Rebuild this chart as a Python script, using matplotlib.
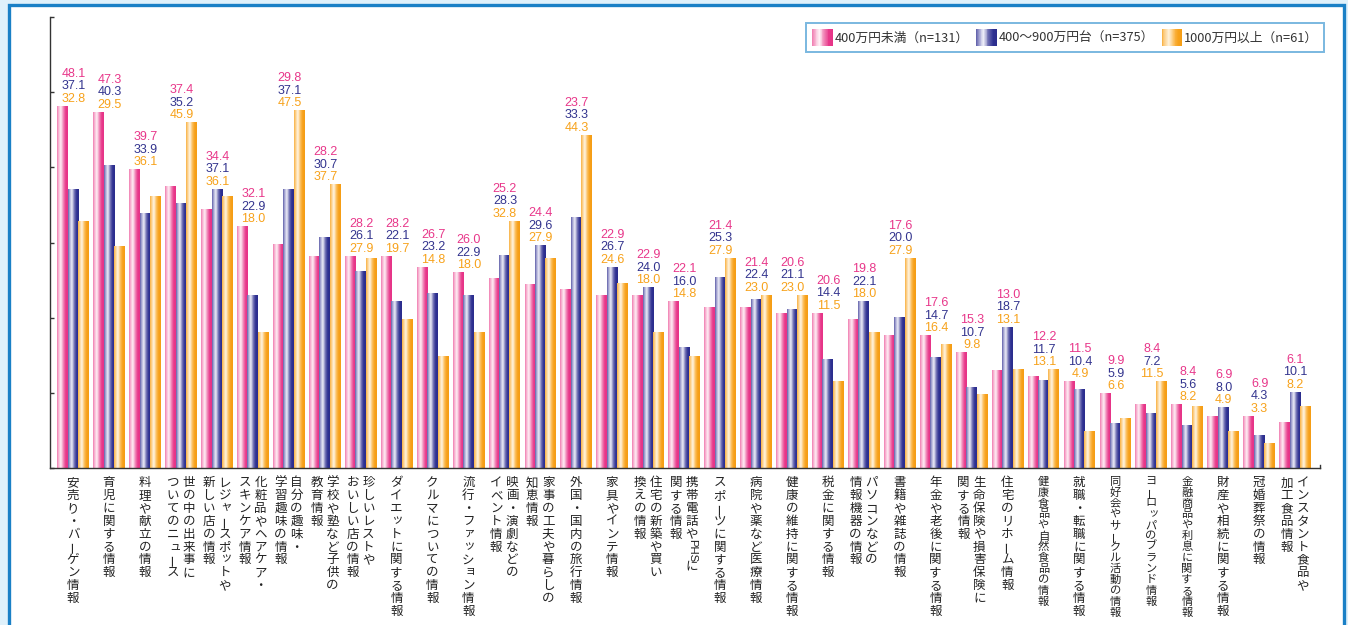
import numpy as np
import matplotlib
matplotlib.use("Agg")
import matplotlib.pyplot as plt
from matplotlib.colors import LinearSegmentedColormap
from matplotlib.patches import Rectangle
from matplotlib.legend_handler import HandlerBase

plt.rcParams['font.family'] = ['Noto Sans CJK JP', 'DejaVu Sans']

# ---------------- data ----------------
categories = [
    "安売り・バーゲン情報",
    "育児に関する情報",
    "料理や献立の情報",
    "世の中の出来事に\nついてのニュース",
    "レジャースポットや\n新しい店の情報",
    "化粧品やヘアケア・\nスキンケア情報",
    "自分の趣味・\n学習趣味の情報",
    "学校や塾など子供の\n教育情報",
    "珍しいレストや\nおいしい店の情報",
    "ダイエットに関する情報",
    "クルマについての情報",
    "流行・ファッション情報",
    "映画・演劇などの\nイベント情報",
    "家事の工夫や暮らしの\n知恵情報",
    "外国・国内の旅行情報",
    "家具やインテ情報",
    "住宅の新築や買い\n換えの情報",
    "携帯電話やPHSに\n関する情報",
    "スポーツに関する情報",
    "病院や薬など医療情報",
    "健康の維持に関する情報",
    "税金に関する情報",
    "パソコンなどの\n情報機器の情報",
    "書籍や雑誌の情報",
    "年金や老後に関する情報",
    "生命保険や損害保険に\n関する情報",
    "住宅のリホーム情報",
    "健康食品や自然食品の情報",
    "就職・転職に関する情報",
    "同好会やサークル活動の情報",
    "ヨーロッパのブランド情報",
    "金融商品や利息に関する情報",
    "財産や相続に関する情報",
    "冠婚葬祭の情報",
    "インスタント食品や\n加工食品情報",
]
low = [48.1, 47.3, 39.7, 37.4, 34.4, 32.1, 29.8, 28.2, 28.2, 28.2, 26.7, 26.0,
       25.2, 24.4, 23.7, 22.9, 22.9, 22.1, 21.4, 21.4, 20.6, 20.6, 19.8, 17.6,
       17.6, 15.3, 13.0, 12.2, 11.5, 9.9, 8.4, 8.4, 6.9, 6.9, 6.1]
mid = [37.1, 40.3, 33.9, 35.2, 37.1, 22.9, 37.1, 30.7, 26.1, 22.1, 23.2, 22.9,
       28.3, 29.6, 33.3, 26.7, 24.0, 16.0, 25.3, 22.4, 21.1, 14.4, 22.1, 20.0,
       14.7, 10.7, 18.7, 11.7, 10.4, 5.9, 7.2, 5.6, 8.0, 4.3, 10.1]
high = [32.8, 29.5, 36.1, 45.9, 36.1, 18.0, 47.5, 37.7, 27.9, 19.7, 14.8, 18.0,
        32.8, 27.9, 44.3, 24.6, 18.0, 14.8, 27.9, 23.0, 23.0, 11.5, 18.0, 27.9,
        16.4, 9.8, 13.1, 13.1, 4.9, 6.6, 11.5, 8.2, 4.9, 3.3, 8.2]
series_names = ["400万円未満（n=131）", "400〜900万円台（n=375）", "1000万円以上（n=61）"]

# ---------------- style ----------------
text_colors = ['#e8378a', '#33348e', '#f7a21b']
cmaps = [
    LinearSegmentedColormap.from_list('pk', [(0, '#f07ab0'), (0.15, '#f7b5d2'), (0.35, '#fff0f6'),
                                             (0.6, '#f07fb3'), (0.8, '#e8388a'), (1, '#e63487')]),
    LinearSegmentedColormap.from_list('bl', [(0, '#5c5ca8'), (0.15, '#a8a8d4'), (0.35, '#eeeef8'),
                                             (0.6, '#6a6ab0'), (0.8, '#2e3192'), (1, '#2b2d8c')]),
    LinearSegmentedColormap.from_list('or', [(0, '#f9b040'), (0.15, '#fcd08a'), (0.35, '#fff6e6'),
                                             (0.6, '#fbbb55'), (0.8, '#f7a11a'), (1, '#f59d14')]),
]

W, H = 1348, 625
fig = plt.figure(figsize=(W / 100, H / 100), dpi=100, facecolor='#dff1fb')
# white panel with blue frame
fig.patches.append(Rectangle((8.5 / W, -0.05), (1343.5 - 8.5) / W, 1.05 - 4.5 / H,
                             transform=fig.transFigure, facecolor='white',
                             edgecolor='#1a80c6', linewidth=2.4, zorder=-10))

ax = fig.add_axes([50 / W, (H - 468) / H, 1270 / W, 451 / H])
ax.set_facecolor('none')
ax.set_zorder(1)

n = len(categories)
x = np.arange(n)
bw = 0.29
grad = np.linspace(0, 1, 256)[np.newaxis, :]
for k, vals in enumerate([low, mid, high]):
    bars = ax.bar(x + (k - 1) * bw, vals, width=bw, facecolor='none', linewidth=0, zorder=2)
    for b in bars:
        x0, w, h = b.get_x(), b.get_width(), b.get_height()
        ax.imshow(grad, extent=[x0, x0 + w, 0, h], cmap=cmaps[k], aspect='auto',
                  interpolation='bilinear', zorder=2)

ax.set_xlim(-0.64, n - 1 + 0.7)
ax.set_ylim(0, 60)
ax.set_yticks(np.arange(0, 61, 10))
ax.set_yticklabels([])
ax.set_xticks([])
ax.tick_params(axis='y', direction='in', length=3, width=1, color='#333333')
for s in ['top', 'right']:
    ax.spines[s].set_visible(False)
for s in ['left', 'bottom']:
    ax.spines[s].set_color('#333333')
    ax.spines[s].set_linewidth(1.0)
# small tick at right end of the baseline
ax.plot([1, 1], [0, 0.006], transform=ax.transAxes, color='#333333', lw=1, clip_on=False)

# value labels
px = 0.72  # points per pixel
for i in range(n):
    top = max(low[i], mid[i], high[i])
    for k, vals in enumerate([high, mid, low]):
        ax.annotate(f"{vals[i]:.1f}", xy=(i, top), xytext=(0.5, (4.5 + k * 12.5) * px),
                    textcoords='offset points', ha='center', va='baseline',
                    fontsize=9.0, color=text_colors[2 - k], family='Liberation Sans',
                    annotation_clip=False)

# vertical category labels
small_kana = set("ッャュョェィォァゥっゃゅょ")
for i, lab in enumerate(categories):
    lines = lab.split("\n")
    offs = [0] if len(lines) == 1 else [8, -8]
    for line, dx in zip(lines, offs):
        long_line = len(line) > 11
        pitch = 10.9 if long_line else 12.85
        base_fs = 8.1 if long_line else 9.0
        y = 14.8 if not long_line else 13.8
        j = 0
        while j < len(line):
            ch = line[j]
            if ch.isascii():
                run = ""
                while j < len(line) and line[j].isascii():
                    run += line[j]
                    j += 1
                length = pitch * 1.5
                ax.annotate(run, xy=(i, 0), xytext=(dx * px, -(y - pitch / 2 + length / 2) * px),
                            textcoords='offset points', ha='center', va='center',
                            rotation=270, fontsize=8.2, color='#222222',
                            family='Liberation Sans', annotation_clip=False)
                y += length
                continue
            ddx, ddy, rot, fs = 0, 0, 0, base_fs
            if ch in small_kana:
                ddx, ddy, fs = 1.8, 1.8, base_fs - 0.6
            if ch == 'ー':
                rot = 90
            ax.annotate(ch, xy=(i, 0), xytext=((dx + ddx) * px, -(y - ddy) * px),
                        textcoords='offset points', ha='center', va='center',
                        rotation=rot, fontsize=fs, color='#222222',
                        annotation_clip=False)
            y += pitch
            j += 1


# legend with gradient handles
class GradHandler(HandlerBase):
    def __init__(self, cmap):
        super().__init__()
        self.cmap = cmap

    def create_artists(self, legend, orig_handle, xdescent, ydescent, width, height, fontsize, trans):
        arts = []
        m = 24
        for q in range(m):
            arts.append(Rectangle((-xdescent + q * width / m, -ydescent), width / m * 1.05, height,
                                  facecolor=self.cmap((q + 0.5) / m), linewidth=0, transform=trans))
        return arts


handles = [Rectangle((0, 0), 1, 1) for _ in range(3)]
leg = fig.legend(handles, series_names, loc='upper right',
                 bbox_to_anchor=(1324 / W, 1 - 23 / H), ncol=3, fontsize=9.2,
                 handler_map={h: GradHandler(c) for h, c in zip(handles, cmaps)},
                 handlelength=1.6, handleheight=1.7, handletextpad=0.15,
                 columnspacing=0.6, borderpad=0.45, borderaxespad=0,
                 fancybox=False, framealpha=1, edgecolor='#7ab8e0', labelcolor='#333333')
leg.get_frame().set_linewidth(1.4)
leg.set_zorder(5)

fig.savefig("out.png", dpi=100, facecolor=fig.get_facecolor())
